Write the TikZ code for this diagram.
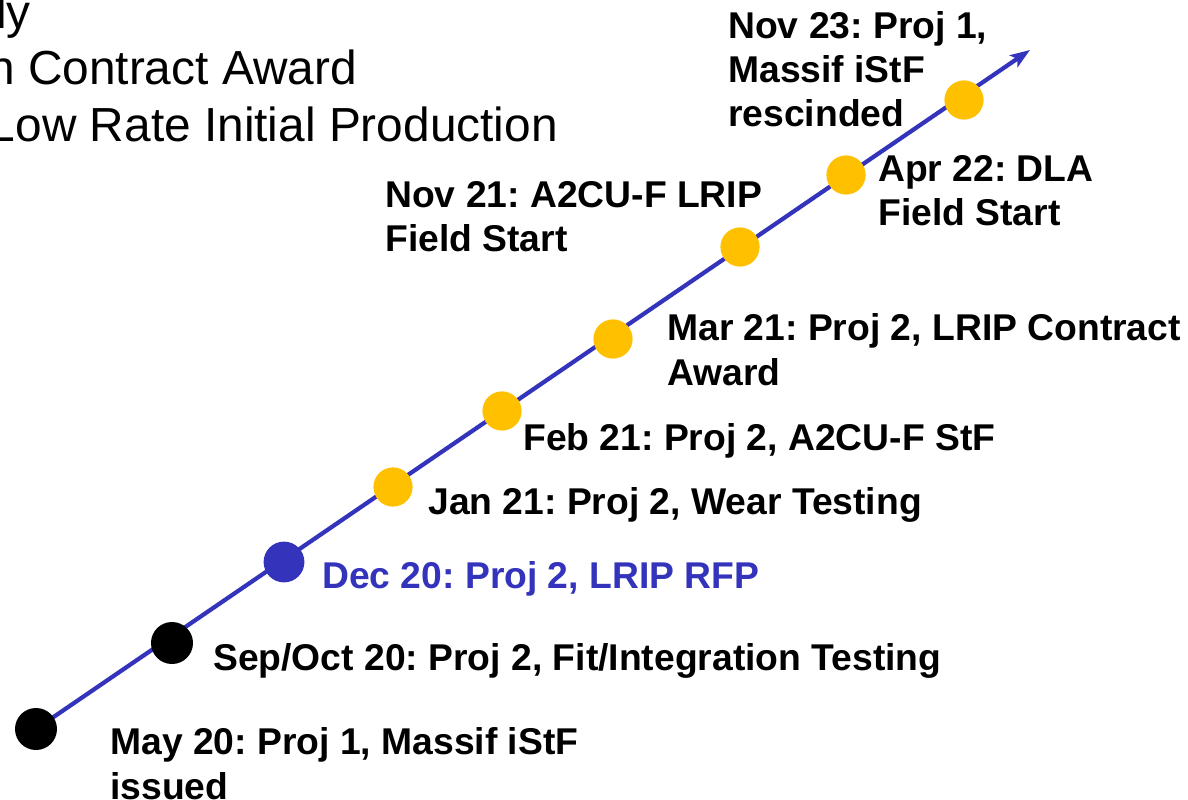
\documentclass[tikz,border=0pt]{standalone}
\usepackage{fontspec}
\setmainfont{Liberation Sans}
\usetikzlibrary{arrows.meta}
\frenchspacing
\definecolor{tlblue}{RGB}{51,51,187}
\definecolor{msyellow}{RGB}{255,192,0}
\tikzset{
  lbl/.style={anchor=base west, inner sep=0pt, align=left,
    font=\fontsize{26.5}{31.5}\selectfont\bfseries},
  head/.style={anchor=base east, inner sep=0pt,
    font=\fontsize{34}{40}\selectfont},
  dot/.style={circle, inner sep=0pt, minimum size=#1},
  bdot/.style={dot=1.05cm, fill=black},
  udot/.style={dot=1.02cm, fill=tlblue},
  ydot/.style={dot=0.98cm, fill=msyellow},
  tline/.style={line width=3pt, draw=tlblue,
    -{Stealth[length=14pt, width=10pt, inset=3pt]}}
}
\begin{document}
\begin{tikzpicture}[x=0.025cm, y=-0.025cm]
\useasboundingbox (0,0) rectangle (1188,800);
% cut-off text at top left
\node[head] (h1) at (31,29) {ly};
\node[head] (h2) at (357,85) {n Contract Award};
\node[head] (h3) at (558,142) {Low Rate Initial Production};
% the time line
\coordinate (tip) at (1030,50);
\coordinate (d0) at (36,729);
\draw[tline] (d0) -- (tip);
\node[bdot] (d1) at (36,729) {};
\node[bdot] (d2) at (172,643) {};
\node[udot] (d3) at (284,562) {};
\foreach \i/\x/\y in {4/393/487, 5/502/411, 6/613/339, 7/740/247, 8/846/175, 9/964/100}
    \node[ydot] (d\i) at (\x,\y) {};
% labels (base = last line)
\node[lbl] (l1) at (110,799) {May 20: Proj 1, Massif iStF\\issued};
\node[lbl] (l2) at (213,670) {Sep/Oct 20: Proj 2, Fit/Integration Testing};
\node[lbl, text=tlblue] (l3) at (322,588) {Dec 20: Proj 2, LRIP RFP};
\node[lbl] (l4) at (428,514) {Jan 21: Proj 2, Wear Testing};
\node[lbl] (l5) at (523,450) {Feb 21: Proj 2, A2CU-F StF};
\node[lbl] (l6) at (667,385) {Mar 21: Proj 2, LRIP Contract\\Award};
\node[lbl] (l7) at (385,252) {Nov 21: A2CU-F LRIP\\Field Start};
\node[lbl] (l8) at (878,226) {Apr 22: DLA\\Field Start};
\node[lbl] (l9) at (728,127) {Nov 23: Proj 1,\\Massif iStF\\rescinded};
\end{tikzpicture}
\end{document}
